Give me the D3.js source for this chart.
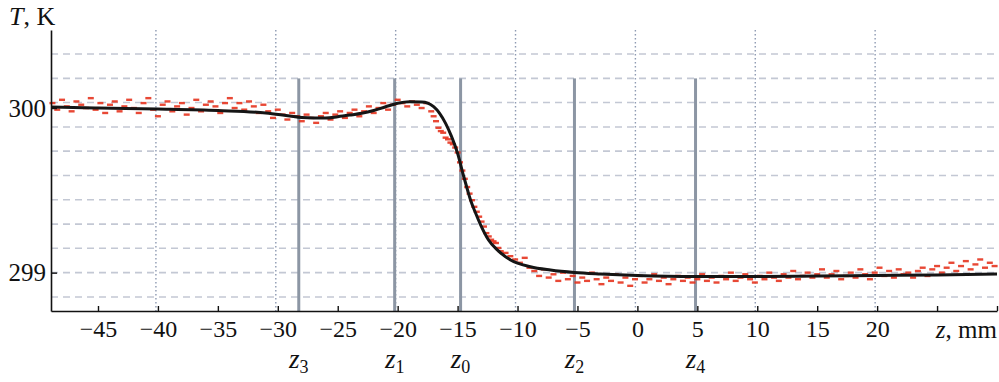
<!DOCTYPE html>
<html>
<head>
<meta charset="utf-8">
<script src="https://cdn.jsdelivr.net/npm/d3@7"></script>
<style>
  body { margin: 0; background: #fff; }
  svg text { font-family: "Liberation Serif", "Times New Roman", serif; fill: #111; }
  .tick text { font-size: 24px; }
  .ylab .tick text { font-size: 25px; }
</style>
</head>
<body>
<div id="container"></div>
<script>
/* DATA */
// smoothed curve, z in mm, T in K
const curveZ = [-48.9, -45, -40, -35, -31, -29, -28, -27, -26, -25, -24, -23, -22, -21, -20, -19, -18, -17.5, -17, -16.5, -16, -15.5, -15, -14.5, -14.17, -13.92, -13.5, -13.08, -12.42, -11.69, -10.58, -8.92, -7.25, -5.25, -3.08, 0, 4.83, 10, 15, 20, 25, 30];
const curveT = [300.006, 300.0, 299.994, 299.985, 299.970, 299.951, 299.942, 299.939, 299.939, 299.947, 299.957, 299.968, 299.985, 300.008, 300.029, 300.038, 300.036, 300.03, 300.008, 299.968, 299.907, 299.826, 299.725, 299.587, 299.502, 299.441, 299.362, 299.290, 299.198, 299.138, 299.077, 299.036, 299.016, 299.001, 298.992, 298.983, 298.977, 298.977, 298.980, 298.983, 298.986, 298.992];

// measured points [z, T]
const measured = [
  [-48.8,300.03],[-48.4,299.99],[-48.0,300.05],[-47.6,300.01],[-47.2,299.98],[-46.8,300.04],[-46.4,300.02],[-46.0,300.00],
  [-45.6,300.06],[-45.2,299.99],[-44.8,300.03],[-44.4,299.97],[-44.0,300.02],[-43.6,300.04],[-43.2,299.98],[-42.8,300.01],
  [-42.4,300.05],[-42.0,300.00],[-41.6,299.97],[-41.2,300.03],[-40.8,300.06],[-40.4,299.99],[-40.0,299.95],[-39.6,300.02],
  [-39.2,300.04],[-38.8,299.98],[-38.4,300.01],[-38.0,300.03],[-37.6,299.96],[-37.2,300.00],[-36.8,300.05],[-36.4,299.98],
  [-36.0,300.02],[-35.6,300.04],[-35.2,300.01],[-34.8,299.97],[-34.4,300.03],[-34.0,300.06],[-33.6,300.00],[-33.2,300.03],
  [-32.8,299.99],[-32.4,300.04],[-32.0,300.01],[-31.6,299.97],[-31.2,300.02],[-30.8,299.98],[-30.4,299.94],[-30.0,299.99],
  [-29.6,299.96],[-29.2,299.93],[-28.8,299.97],[-28.4,299.95],[-28.0,299.92],[-27.6,299.96],[-27.2,299.94],[-26.8,299.91],
  [-26.4,299.95],[-26.0,299.97],[-25.6,299.93],[-25.2,299.96],[-24.8,299.98],[-24.4,299.94],[-24.0,299.97],[-23.6,299.99],
  [-23.2,299.95],[-22.8,299.98],[-22.4,300.01],[-22.0,299.97],[-21.6,300.00],[-21.2,300.03],[-20.8,299.99],[-20.4,300.02],
  [-20.0,300.05],[-19.6,300.03],[-19.2,300.01],[-18.8,300.04],[-18.4,300.02],[-18.0,300.00],[-17.6,300.03],[-17.2,299.98],
  [-17.0,299.95],[-16.8,299.92],[-16.6,299.88],[-16.4,299.86],[-16.2,299.85],[-16.0,299.82],[-15.8,299.81],[-15.6,299.79],
  [-15.4,299.78],[-15.2,299.76],[-15.0,299.73],[-14.8,299.67],[-14.6,299.62],[-14.4,299.57],[-14.2,299.52],[-14.0,299.48],
  [-13.8,299.44],[-13.6,299.40],[-13.4,299.37],[-13.2,299.34],[-13.0,299.31],[-12.8,299.28],[-12.6,299.24],[-12.4,299.22],
  [-12.2,299.20],[-12.0,299.19],[-11.8,299.18],[-11.6,299.15],[-11.4,299.13],[-11.0,299.12],[-10.6,299.10],[-10.2,299.08],
  [-9.8,299.06],[-9.4,299.09],[-9.0,299.03],[-8.6,299.01],[-8.2,298.98],[-7.8,299.02],[-7.4,298.97],[-7.0,298.99],
  [-6.6,298.95],[-6.2,299.00],[-5.8,298.96],[-5.4,298.98],[-5.0,298.94],[-4.6,298.97],[-4.2,298.95],[-3.8,299.00],
  [-3.4,298.96],[-3.0,298.93],[-2.6,298.97],[-2.2,298.95],[-1.8,298.99],[-1.4,298.94],[-1.0,298.97],[-0.6,298.92],
  [-0.2,298.96],[0.2,298.98],[0.6,298.94],[1.0,298.96],[1.4,298.99],[1.8,298.95],[2.2,298.97],[2.6,298.93],
  [3.0,298.96],[3.4,298.98],[3.8,298.95],[4.2,298.97],[4.6,298.94],[5.0,298.96],[5.4,298.99],[5.8,298.95],
  [6.2,298.97],[6.6,298.94],[7.0,298.98],[7.4,298.96],[7.8,299.00],[8.2,298.95],[8.6,298.97],[9.0,298.99],
  [9.4,298.96],[9.8,298.94],[10.2,298.98],[10.6,298.96],[11.0,299.00],[11.4,298.97],[11.8,298.95],[12.2,298.99],
  [12.6,298.97],[13.0,299.01],[13.4,298.96],[13.8,298.98],[14.2,299.00],[14.6,298.97],[15.0,298.99],[15.4,299.02],
  [15.8,298.97],[16.2,298.99],[16.6,299.01],[17.0,298.96],[17.4,298.98],[17.8,299.00],[18.2,298.97],[18.6,299.02],
  [19.0,298.99],[19.4,298.96],[19.8,299.00],[20.2,299.03],[20.6,298.98],[21.0,299.01],[21.4,298.97],[21.8,299.02],
  [22.2,298.99],[22.6,299.00],[23.0,298.97],[23.4,299.01],[23.8,299.03],[24.2,298.98],[24.6,299.02],[25.0,299.04],
  [25.4,299.00],[25.8,299.03],[26.2,299.06],[26.6,299.01],[27.0,299.04],[27.4,299.07],[27.8,299.02],[28.2,299.05],
  [28.6,299.08],[29.0,299.03],[29.4,299.06],[29.8,299.04]
];

// marker positions
const markerNames = ["3", "1", "0", "2", "4"];
const markerZ = [-28.25, -20.25, -14.75, -5.25, 4.85];

// ticks and grid
const xTicks = [-45, -40, -35, -30, -25, -20, -15, -10, -5, 0, 5, 10, 15, 20, 25, 30];
const xTickLabels = [-45, -40, -35, -30, -25, -20, -15, -10, -5, 0, 5, 10, 15, 20];
const yTicks = [299, 300];
const xGrid = [-40, -30, -20, -10, 0, 10, 20];
const yGrid = [298.852, 299, 299.148, 299.295, 299.443, 299.59, 299.738, 299.885, 300.034, 300.18, 300.328];

/* LAYOUT */
const width = 999, height = 382,
  margin = { top: 30, bottom: 71, left: 51, right: 2 };

const xScale = d3.scaleLinear()
  .domain([-48.92, 30])
  .range([margin.left, width - margin.right]);

const yScale = d3.scaleLinear()
  .domain([298.767, 300.474])
  .range([height - margin.bottom, margin.top]);

const svg = d3.select("#container")
  .append("svg")
  .attr("width", width)
  .attr("height", height);

// horizontal dashed grid
svg.append("g")
  .selectAll("line")
  .data(yGrid)
  .join("line")
  .attr("x1", margin.left)
  .attr("x2", width)
  .attr("y1", d => yScale(d))
  .attr("y2", d => yScale(d))
  .attr("stroke", "#c3c8d4")
  .attr("stroke-width", 1.6)
  .attr("stroke-dasharray", "7,5");

// vertical dotted grid
svg.append("g")
  .selectAll("line")
  .data(xGrid)
  .join("line")
  .attr("x1", d => xScale(d) - 2)
  .attr("x2", d => xScale(d) - 2)
  .attr("y1", margin.top)
  .attr("y2", height - margin.bottom)
  .attr("stroke", "#8e9ab2")
  .attr("stroke-width", 1.4)
  .attr("stroke-dasharray", "1.5,2.5");

// marker lines
svg.append("g")
  .selectAll("line")
  .data(markerZ)
  .join("line")
  .attr("x1", d => xScale(d))
  .attr("x2", d => xScale(d))
  .attr("y1", yScale(300.18))
  .attr("y2", height - margin.bottom)
  .attr("stroke", "#8c96a4")
  .attr("stroke-width", 3);

// measured dashes
svg.append("g")
  .selectAll("rect")
  .data(measured)
  .join("rect")
  .attr("x", d => xScale(d[0]) - 3)
  .attr("y", d => yScale(d[1]) - 1.2)
  .attr("width", 6)
  .attr("height", 2.4)
  .attr("fill", "#e5341f")
  .attr("opacity", 0.9);

// smooth curve
const line = d3.line()
  .x((d, i) => xScale(curveZ[i]))
  .y(d => yScale(d))
  .curve(d3.curveMonotoneX);

svg.append("path")
  .datum(curveT)
  .attr("d", line)
  .attr("fill", "none")
  .attr("stroke", "#151515")
  .attr("stroke-width", 3);

/* AXES */
const xAxis = d3.axisBottom(xScale)
  .tickValues(xTicks)
  .tickSizeInner(-5)
  .tickSizeOuter(0)
  .tickPadding(9)
  .tickFormat(d => xTickLabels.includes(d) ? d3.format("")(d) : "");

svg.append("g")
  .attr("transform", `translate(0,${height - margin.bottom})`)
  .call(xAxis)
  .call(g => g.select(".domain").attr("stroke", "#111").attr("stroke-width", 1.6))
  .call(g => g.selectAll(".tick line").attr("stroke", "#111").attr("stroke-width", 1.4));

const yAxis = d3.axisLeft(yScale)
  .tickValues(yTicks)
  .tickSizeInner(-6)
  .tickSizeOuter(0)
  .tickPadding(5)
  .tickFormat(d3.format("d"));

svg.append("g")
  .attr("class", "ylab")
  .attr("transform", `translate(${margin.left},0)`)
  .call(yAxis)
  .call(g => g.select(".domain").attr("stroke", "#111").attr("stroke-width", 1.6))
  .call(g => g.selectAll(".tick line").attr("stroke", "#111").attr("stroke-width", 1.4));

/* LABELS */
const tLabel = svg.append("text")
  .attr("x", 9)
  .attr("y", 25)
  .style("font-size", "26px");
tLabel.append("tspan").style("font-style", "italic").text("T");
tLabel.append("tspan").text(", K");

const zLabel = svg.append("text")
  .attr("x", width - 2)
  .attr("y", 338)
  .attr("text-anchor", "end")
  .style("font-size", "25px");
zLabel.append("tspan").style("font-style", "italic").text("z");
zLabel.append("tspan").text(", mm");

const mLabels = svg.append("g")
  .selectAll("text")
  .data(markerZ)
  .join("text")
  .attr("x", d => xScale(d))
  .attr("y", 368)
  .attr("text-anchor", "middle")
  .style("font-size", "27px");
mLabels.append("tspan").style("font-style", "italic").text("z");
mLabels.append("tspan")
  .style("font-size", "18px")
  .attr("dy", 5)
  .text((d, i) => markerNames[i]);
</script>
</body>
</html>
